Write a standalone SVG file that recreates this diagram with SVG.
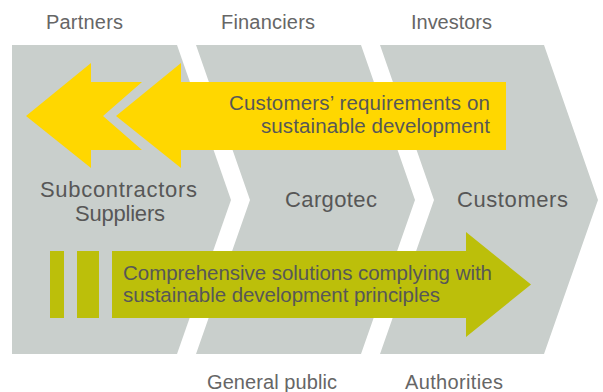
<svg xmlns="http://www.w3.org/2000/svg" width="603" height="392" viewBox="0 0 603 392">
<style>
.chev{fill:#c9cfcc}
.lbl{font-family:"Liberation Sans",Arial,sans-serif;fill:#575757}
.top{font-size:20px;fill:#666}
.mid{font-size:22px}
.arr{font-size:20.5px}
.yel{fill:#ffd700}
.olv{fill:#bcbf0a}
</style>
<rect width="603" height="392" fill="#ffffff"/>
<g id="chevron-suppliers">
<polygon class="chev" points="12,45 177,45 231,200 177,354 12,354"/>
<text class="lbl mid" x="118.5" y="197" text-anchor="middle" textLength="157">Subcontractors</text>
<text class="lbl mid" x="120" y="221" text-anchor="middle" textLength="90">Suppliers</text>
</g>
<g id="chevron-cargotec">
<polygon class="chev" points="196,45 361,45 415,200 361,354 196,354 250,200"/>
<text class="lbl mid" x="331" y="207" text-anchor="middle" textLength="92">Cargotec</text>
</g>
<g id="chevron-customers">
<polygon class="chev" points="380,45 544,45 598,200 544,354 380,354 434,200"/>
<text class="lbl mid" x="512.5" y="207" text-anchor="middle" textLength="111">Customers</text>
</g>
<g id="connectors">
<g id="arrow-requirements">
<polygon class="yel" points="26,116 91,63 91,82 142,82 103,116 142,150 91,150 91,168"/>
<polygon class="yel" points="116,116 181,63 181,82 506,82 506,150 181,150 181,168"/>
<text class="lbl arr" x="490" y="110" text-anchor="end" textLength="261">Customers’ requirements on</text>
<text class="lbl arr" x="490" y="133" text-anchor="end" textLength="229">sustainable development</text>
</g>
<g id="arrow-solutions">
<rect class="olv" x="50" y="251" width="14" height="67"/>
<rect class="olv" x="77" y="251" width="22" height="67"/>
<polygon class="olv" points="112,251 466,251 466,232 531,284.5 466,337 466,318 112,318"/>
<text class="lbl arr" x="123" y="280" textLength="369">Comprehensive solutions complying with</text>
<text class="lbl arr" x="123" y="302" textLength="317">sustainable development principles</text>
</g>
</g>
<g id="stakeholders">
<text class="lbl top" x="46" y="29" textLength="77">Partners</text>
<text class="lbl top" x="221" y="29" textLength="94">Financiers</text>
<text class="lbl top" x="411" y="29" textLength="81">Investors</text>
<text class="lbl top" x="207" y="389" textLength="130">General public</text>
<text class="lbl top" x="405" y="389" textLength="98">Authorities</text>
</g>
</svg>
